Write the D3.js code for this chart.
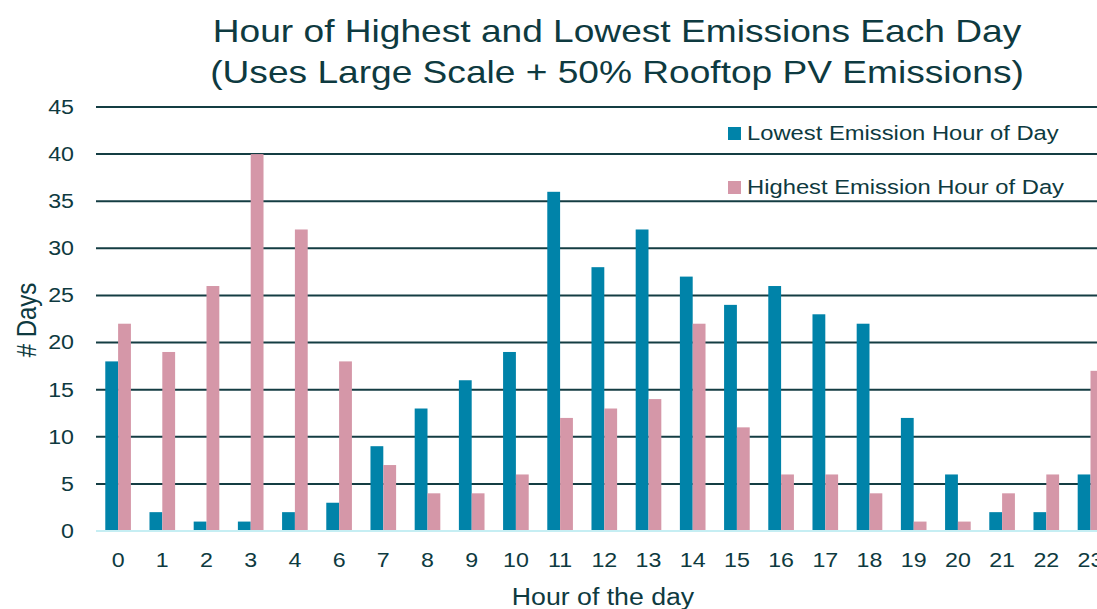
<!DOCTYPE html>
<html>
<head>
<meta charset="utf-8">
<script src="https://cdn.jsdelivr.net/npm/d3@7"></script>
<style>
  html, body { margin: 0; padding: 0; background: #fff; overflow: hidden; }
  svg { display: block; font-family: "Liberation Sans", Arial, sans-serif; }
</style>
</head>
<body>
<svg id="chart" width="1097" height="609"></svg>
<script>
// Hours shown on the x axis (hour 5 has no entries)
const hours = ["0","1","2","3","4","6","7","8","9","10","11","12","13","14","15","16","17","18","19","20","21","22","23"];
// Number of days each hour was the lowest-emission hour
const lowest = [18,2,1,1,2,3,9,13,16,19,36,28,32,27,24,26,23,22,12,6,2,2,6];
// Number of days each hour was the highest-emission hour
const highest = [22,19,26,40,32,18,7,4,4,6,12,13,14,22,11,6,6,4,1,1,4,6,17];
const yTicks = [0,5,10,15,20,25,30,35,40,45];
const seriesNames = ["Lowest Emission Hour of Day", "Highest Emission Hour of Day"];
const seriesColors = ["#0083a9", "#d597a8"];
const textColor = "#0e3a40";
// Text in this chart is set slightly wide
const stretch = 1.16;

const svg = d3.select("#chart");
const plotLeft = 96, step = 44.2;
const plotRight = plotLeft + step * hours.length;
const plotTop = 107, plotBottom = 531;

const x = d3.scaleBand().domain(hours).range([plotLeft, plotRight]).paddingInner(0.42).paddingOuter(0.21);
const xs = d3.scaleBand().domain([0, 1]).range([0, x.bandwidth()]);
const y = d3.scaleLinear().domain([0, 45]).range([plotBottom, plotTop]);

// Title
const title = svg.append("g")
  .attr("transform", `translate(617,0) scale(${stretch},1)`)
  .append("text")
  .attr("text-anchor", "middle")
  .attr("fill", textColor).style("font-size", "32px");
title.append("tspan").attr("x", 0).attr("y", 42).text("Hour of Highest and Lowest Emissions Each Day");
title.append("tspan").attr("x", 0).attr("y", 83).text("(Uses Large Scale + 50% Rooftop PV Emissions)");

// Horizontal gridlines
svg.append("g").selectAll("line")
  .data(yTicks.filter(d => d > 0))
  .join("line")
  .attr("x1", plotLeft).attr("x2", 1097)
  .attr("y1", d => y(d)).attr("y2", d => y(d))
  .attr("stroke", "#143d43").attr("stroke-width", 2);

// Y axis tick labels
const yAxis = svg.append("g")
  .attr("transform", `translate(${plotLeft},0)`)
  .call(d3.axisLeft(y).tickValues(yTicks).tickSize(0).tickPadding(19));
yAxis.select(".domain").remove();
yAxis.selectAll("text").attr("fill", textColor).style("font-size", "20px")
  .style("font-family", "Liberation Sans, Arial, sans-serif")
  .attr("transform", `scale(${stretch},1)`);

// Bars
const rows = hours.map((h, i) => ({ h, vals: [lowest[i], highest[i]] }));
const groups = svg.append("g").selectAll("g")
  .data(rows).join("g")
  .attr("transform", d => `translate(${x(d.h)},0)`);
groups.selectAll("rect")
  .data(d => d.vals.map((v, k) => ({ v, k })))
  .join("rect")
  .attr("x", d => xs(d.k))
  .attr("width", xs.bandwidth())
  .attr("y", d => y(d.v))
  .attr("height", d => y(0) - y(d.v))
  .attr("fill", d => seriesColors[d.k]);

// Baseline
svg.append("line")
  .attr("x1", plotLeft).attr("x2", 1097)
  .attr("y1", y(0)).attr("y2", y(0))
  .attr("stroke", "#c6eef3").attr("stroke-width", 2);

// X axis tick labels
const xAxis = svg.append("g")
  .attr("transform", `translate(0,${plotBottom})`)
  .call(d3.axisBottom(x).tickSize(0).tickPadding(22));
xAxis.select(".domain").remove();
xAxis.selectAll("text").attr("fill", textColor).style("font-size", "20px")
  .style("font-family", "Liberation Sans, Arial, sans-serif")
  .attr("transform", `scale(${stretch},1)`);

// Axis titles
svg.append("g")
  .attr("transform", `translate(603,0) scale(${stretch},1)`)
  .append("text")
  .attr("x", 0).attr("y", 605).attr("text-anchor", "middle")
  .attr("fill", textColor).style("font-size", "23px")
  .text("Hour of the day");
svg.append("g")
  .attr("transform", `translate(36,320) scale(${stretch},1) rotate(-90)`)
  .append("text")
  .attr("text-anchor", "middle")
  .attr("fill", textColor).style("font-size", "24px")
  .text("# Days");

// Legend
const legend = svg.append("g").selectAll("g")
  .data(seriesNames).join("g")
  .attr("transform", (d, i) => `translate(728,${127 + i * 54})`);
legend.append("rect")
  .attr("width", 13).attr("height", 13)
  .attr("fill", (d, i) => seriesColors[i]);
legend.append("g")
  .attr("transform", `translate(19,13) scale(${stretch},1)`)
  .append("text")
  .attr("fill", textColor).style("font-size", "20.5px")
  .text(d => d);
</script>
</body>
</html>
